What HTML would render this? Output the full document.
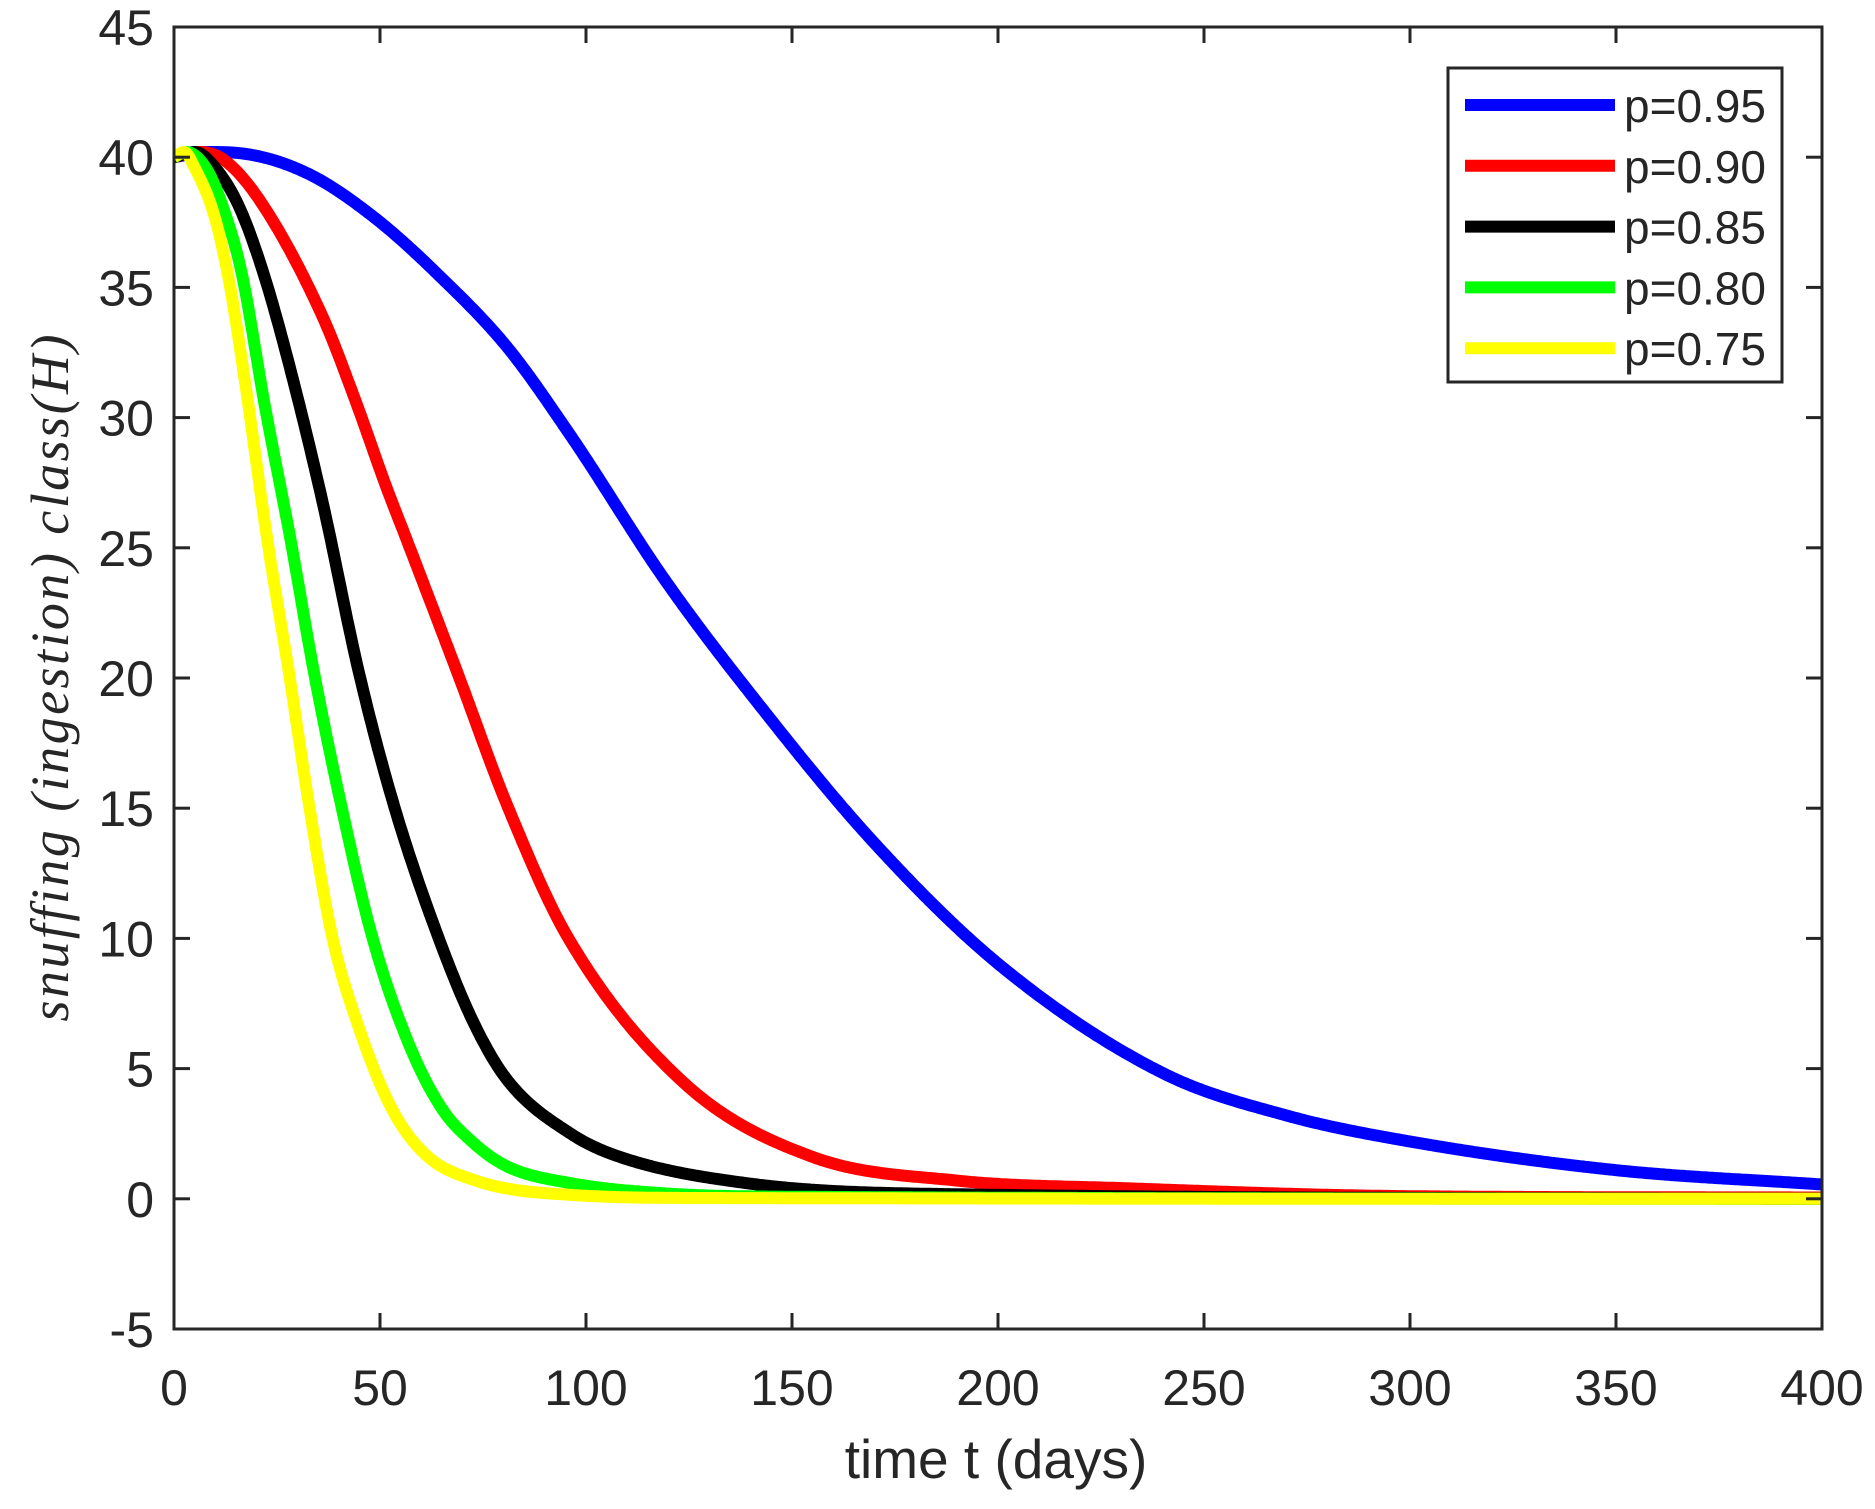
<!DOCTYPE html>
<html><head><meta charset="utf-8"><style>
html,body{margin:0;padding:0;background:#fff;}
svg{display:block;}
text{font-family:"Liberation Sans",sans-serif;fill:#262626;}
</style></head><body>
<svg id="chart" width="1875" height="1509" viewBox="0 0 1875 1509">
<rect width="1875" height="1509" fill="#fff"/>
<g id="series"></g>
<g id="axes"></g>
<g id="legend"></g>
<text x="996" y="1478" font-size="55" text-anchor="middle">time t (days)</text>
<text transform="translate(68,678) rotate(-90)" font-size="54" text-anchor="middle" textLength="687" lengthAdjust="spacing" font-style="italic" style="font-family:'Liberation Serif',serif">snuffing (ingestion) class(H)</text>
</svg>
<script>
const xTicks=[0,50,100,150,200,250,300,350,400];
const yTicks=[-5,0,5,10,15,20,25,30,35,40,45];
const seriesLabels=["p=0.95","p=0.90","p=0.85","p=0.80","p=0.75"];
const seriesColors=["#0000ff","#ff0000","#000000","#00ff00","#ffff00"];
const tBlue=[0,8,16.2,32.4,48.5,64.7,80.9,96.3,119,139.4,170,201,240,270,300,350,400];
const vBlue=[40,40.2,40.15,39.38,37.7,35.4,32.7,29.3,23.8,19.5,13.66,8.9,4.83,3.2,2.2,1.1,0.55];
const tRed=[0,6,12.1,21,36,43.7,51.5,56.5,68.8,80.9,95.5,123.8,154.8,190,232,300,400];
const vRed=[40,40.2,39.9,38.3,33.9,30.8,27.35,25.3,20.2,15.1,10.07,4.45,1.62,0.7,0.4,0.1,0.05];
const tBlack=[0,5,10,15.8,21.8,28,36,44.9,53.4,64.1,72.8,80.9,96.3,108,139,180,400];
const vBlack=[40,40.2,39.6,38.1,35.5,32,26.8,20.2,15.1,10.07,6.74,4.56,2.5,1.62,0.6,0.2,0];
const tGreen=[0,3,8.1,12.5,16.5,22,28.3,34,40.6,48.1,56.6,64.7,72.8,80.9,96.3,120,150,400];
const vGreen=[40,40.2,39.5,37.8,35.5,30.5,25.3,20.2,15.1,10.07,6.1,3.54,2.13,1.24,0.6,0.2,0.08,0];
const tYellow=[0,2.5,5,9.7,13.3,17.4,22.6,27.9,32.8,38.4,44.5,52.6,60.7,72.8,96.3,130,400];
const vYellow=[40,40.2,39.6,37.8,35.3,31.2,25.35,20.2,15.1,10.07,6.74,3.54,1.75,0.72,0.15,0.03,0];
const seriesT=[tBlue,tRed,tBlack,tGreen,tYellow];
const seriesV=[vBlue,vRed,vBlack,vGreen,vYellow];

const X0=174,X1=1822,Y0=1329,Y1=27;
const xs=t=>X0+(t-0)/(400-0)*(X1-X0);
const ys=v=>Y0-(v-(-5))/(45-(-5))*(Y0-Y1);
const NS="http://www.w3.org/2000/svg";
function mk(tag,attrs,parent){const e=document.createElementNS(NS,tag);for(const k in attrs)e.setAttribute(k,attrs[k]);parent.appendChild(e);return e;}

function monotone(T,V){
  const n=T.length,d=[],m=new Array(n);
  for(let i=0;i<n-1;i++)d.push((V[i+1]-V[i])/(T[i+1]-T[i]));
  m[0]=d[0];m[n-1]=d[n-2];
  for(let i=1;i<n-1;i++){m[i]=(d[i-1]*d[i]<=0)?0:(d[i-1]+d[i])/2;}
  for(let i=0;i<n-1;i++){
    if(d[i]===0){m[i]=0;m[i+1]=0;continue;}
    const a=m[i]/d[i],b=m[i+1]/d[i],s=a*a+b*b;
    if(s>9){const k=3/Math.sqrt(s);m[i]=k*a*d[i];m[i+1]=k*b*d[i];}
  }
  return t=>{
    let i=0;while(i<n-2&&t>T[i+1])i++;
    const h=T[i+1]-T[i],u=(t-T[i])/h,u2=u*u,u3=u2*u;
    return (2*u3-3*u2+1)*V[i]+(u3-2*u2+u)*h*m[i]+(-2*u3+3*u2)*V[i+1]+(u3-u2)*h*m[i+1];
  };
}
const sg=document.getElementById('series');
const clip=mk('clipPath',{id:'pc'},sg);mk('rect',{x:X0,y:Y1,width:X1-X0,height:Y0-Y1},clip);
for(let s=0;s<5;s++){
  const T=seriesT[s],f=monotone(T,seriesV[s]);
  const pts=[];
  for(let t=T[0];t<=T[T.length-1]+1e-9;t+=0.5)pts.push(xs(t).toFixed(1)+','+ys(f(t)).toFixed(1));
  const p=mk('polyline',{points:pts.join(' '),fill:'none',stroke:seriesColors[s],'stroke-width':12,'stroke-linejoin':'round','clip-path':'url(#pc)'},sg);
  
  
}
const ax=document.getElementById('axes');
mk('rect',{x:X0,y:Y1,width:X1-X0,height:Y0-Y1,fill:'none',stroke:'#262626','stroke-width':3},ax);
xTicks.forEach(t=>{
  const x=xs(t);
  mk('line',{x1:x,y1:Y0,x2:x,y2:Y0-16,stroke:'#262626','stroke-width':3},ax);
  mk('line',{x1:x,y1:Y1,x2:x,y2:Y1+16,stroke:'#262626','stroke-width':3},ax);
  const tx=mk('text',{x:x,y:Y0+76,'font-size':50,'text-anchor':'middle'},ax);
  tx.textContent=t;
  
  
});
yTicks.forEach(v=>{
  const y=ys(v);
  mk('line',{x1:X0,y1:y,x2:X0+16,y2:y,stroke:'#262626','stroke-width':3},ax);
  mk('line',{x1:X1,y1:y,x2:X1-16,y2:y,stroke:'#262626','stroke-width':3},ax);
  const tx=mk('text',{x:X0-20,y:y+18,'font-size':50,'text-anchor':'end'},ax);
  tx.textContent=v;
  
  
});
const lg=document.getElementById('legend');
mk('rect',{x:1448,y:68,width:334,height:314,fill:'#fff',stroke:'#262626','stroke-width':3},lg);
for(let s=0;s<5;s++){
  const y=105+s*60.8;
  const ln=mk('line',{x1:1465,y1:y,x2:1615,y2:y,stroke:seriesColors[s],'stroke-width':12},lg);
  
  
  const tx=mk('text',{x:1624,y:y+17,'font-size':46},lg);
  tx.textContent=seriesLabels[s];
  
  
}
</script>
</body></html>
